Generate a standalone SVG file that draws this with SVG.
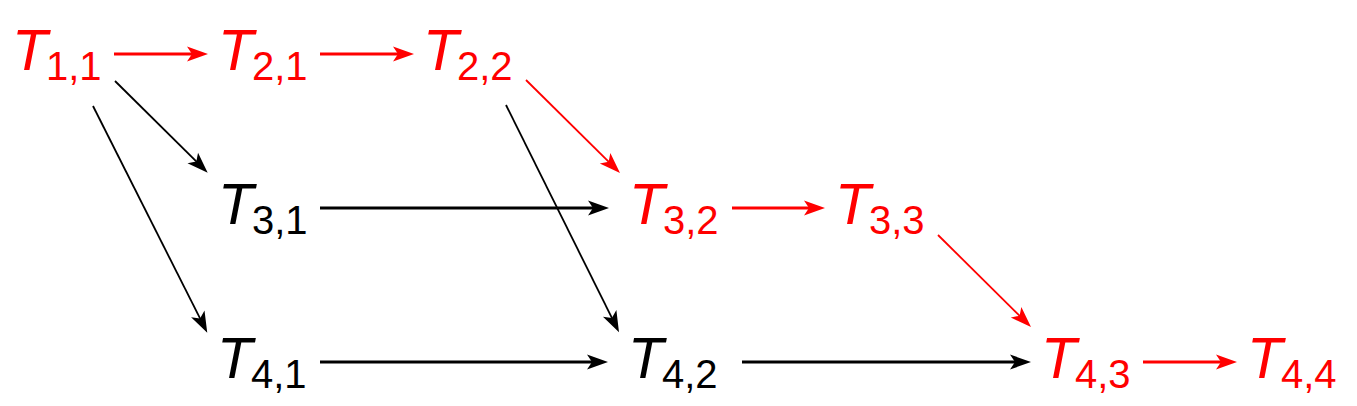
<svg xmlns="http://www.w3.org/2000/svg" width="1357" height="406" viewBox="0 0 1357 406">
<style>
text{font-family:"Liberation Sans",Arial,Helvetica,sans-serif}
.T{font-style:italic;font-size:58px}
.s{font-size:40px}
.red{fill:#ff0000}
.blk{fill:#000}
.cr{stroke:#ff0000;fill:none}
.cb{stroke:#000;fill:none}
.h{stroke-width:3}
.d{stroke-width:1.8}
.mr{marker-end:url(#ar)}
.mb{marker-end:url(#ab)}
</style>
<defs>
<marker id="ar" markerUnits="userSpaceOnUse" viewBox="-13 -8 23 16" refX="0" refY="0" markerWidth="23" markerHeight="16" orient="auto">
<path d="M9,0 L-12,-7.5 L-7,0 L-12,7.5 Z" fill="#ff0000"/>
</marker>
<marker id="ab" markerUnits="userSpaceOnUse" viewBox="-13 -8 23 16" refX="0" refY="0" markerWidth="23" markerHeight="16" orient="auto">
<path d="M9,0 L-12,-7.5 L-7,0 L-12,7.5 Z" fill="#000"/>
</marker>
</defs>
<g id="connectors">
<line class="cr h mr" x1="114" y1="54" x2="199" y2="54"/>
<line class="cr h mr" x1="320" y1="54" x2="405" y2="54"/>
<line class="cr h mr" x1="732" y1="208" x2="816" y2="208"/>
<line class="cr h mr" x1="1143" y1="362" x2="1228" y2="362"/>
<line class="cb h mb" x1="320" y1="208" x2="600" y2="208"/>
<line class="cb h mb" x1="320" y1="362" x2="599" y2="362"/>
<line class="cb h mb" x1="742" y1="362" x2="1022" y2="362"/>
<line class="cb d mb" x1="115" y1="81" x2="201.3" y2="166.4"/>
<line class="cb d mb" x1="93" y1="106" x2="203.2" y2="324.7"/>
<line class="cb d mb" x1="506" y1="105" x2="615" y2="324.2"/>
<line class="cr d mr" x1="526" y1="80" x2="613.6" y2="166.7"/>
<line class="cr d mr" x1="938" y1="235" x2="1024.6" y2="320.7"/>
</g>
<g id="T11" class="red" transform="translate(22,70)"><text><tspan class="T" x="-10" y="0">T</tspan><tspan class="s" x="24" y="10">1,1</tspan></text></g>
<g id="T21" class="red" transform="translate(228,70)"><text><tspan class="T" x="-10" y="0">T</tspan><tspan class="s" x="24" y="10">2,1</tspan></text></g>
<g id="T22" class="red" transform="translate(433,70)"><text><tspan class="T" x="-10" y="0">T</tspan><tspan class="s" x="24" y="10">2,2</tspan></text></g>
<g id="T31" class="blk" transform="translate(228,224)"><text><tspan class="T" x="-10" y="0">T</tspan><tspan class="s" x="24" y="10">3,1</tspan></text></g>
<g id="T32" class="red" transform="translate(639,224)"><text><tspan class="T" x="-10" y="0">T</tspan><tspan class="s" x="24" y="10">3,2</tspan></text></g>
<g id="T33" class="red" transform="translate(845,224)"><text><tspan class="T" x="-10" y="0">T</tspan><tspan class="s" x="24" y="10">3,3</tspan></text></g>
<g id="T41" class="blk" transform="translate(227,378)"><text><tspan class="T" x="-10" y="0">T</tspan><tspan class="s" x="24" y="10">4,1</tspan></text></g>
<g id="T42" class="blk" transform="translate(638,378)"><text><tspan class="T" x="-10" y="0">T</tspan><tspan class="s" x="24" y="10">4,2</tspan></text></g>
<g id="T43" class="red" transform="translate(1051,378)"><text><tspan class="T" x="-10" y="0">T</tspan><tspan class="s" x="24" y="10">4,3</tspan></text></g>
<g id="T44" class="red" transform="translate(1257,378)"><text><tspan class="T" x="-10" y="0">T</tspan><tspan class="s" x="24" y="10">4,4</tspan></text></g>
</svg>
